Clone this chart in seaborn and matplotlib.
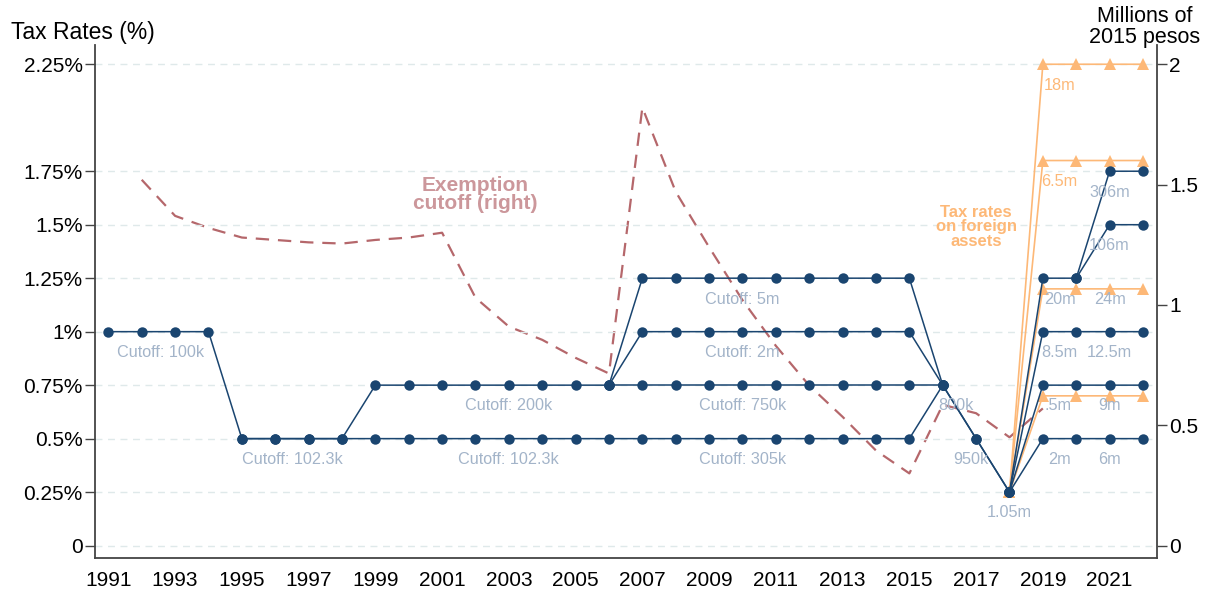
import numpy as np
import pandas as pd
import matplotlib
matplotlib.use("Agg")
import matplotlib.pyplot as plt
import seaborn as sns

sns.set_theme(style="white")
plt.rcParams['font.family'] = ['Liberation Sans', 'DejaVu Sans']
plt.rcParams['text.color'] = 'black'

N = np.nan
years = list(range(1991, 2023))

# Tax-rate brackets (%, left axis)
rate_top = [1.0, 1.0, 1.0, 1.0, 0.5, 0.5, 0.5, 0.5,
            0.75, 0.75, 0.75, 0.75, 0.75, 0.75, 0.75, 0.75,
            1.25, 1.25, 1.25, 1.25, 1.25, 1.25, 1.25, 1.25, 1.25,
            0.75, 0.5, 0.25, 1.25, 1.25, 1.75, 1.75]
rate_low = [N, N, N, N, 0.5, 0.5, 0.5, 0.5,
            0.5, 0.5, 0.5, 0.5, 0.5, 0.5, 0.5, 0.5,
            0.5, 0.5, 0.5, 0.5, 0.5, 0.5, 0.5, 0.5, 0.5,
            0.75, 0.5, 0.25, 0.5, 0.5, 0.5, 0.5]
rate_mid1 = [N, N, N, N, N, N, N, N,
             N, N, N, N, N, N, N, 0.75,
             1.0, 1.0, 1.0, 1.0, 1.0, 1.0, 1.0, 1.0, 1.0,
             0.75, N, N, N, N, N, N]
rate_mid2 = [N, N, N, N, N, N, N, N,
             N, N, N, N, N, N, N, 0.75,
             0.75, 0.75, 0.75, 0.75, 0.75, 0.75, 0.75, 0.75, 0.75,
             0.75, N, N, N, N, N, N]
rate_new1 = [N] * 27 + [0.25, 0.75, 0.75, 0.75, 0.75]
rate_new2 = [N] * 27 + [0.25, 1.0, 1.0, 1.0, 1.0]
rate_new3 = [N] * 29 + [1.25, 1.5, 1.5]

# Foreign-asset rates (%, left axis)
foreign_1 = [N] * 27 + [0.25, 0.7, 0.7, 0.7, 0.7]
foreign_2 = [N] * 27 + [0.25, 1.2, 1.2, 1.2, 1.2]
foreign_3 = [N] * 27 + [0.25, 1.8, 1.8, 1.8, 1.8]
foreign_4 = [N] * 27 + [0.25, 2.25, 2.25, 2.25, 2.25]

# Exemption cutoff (millions of 2015 pesos, right axis)
exempt_years = list(range(1992, 2020))
exemption = [1.52, 1.37, 1.32, 1.28, 1.27, 1.26, 1.255, 1.27, 1.28, 1.30,
             1.03, 0.91, 0.855, 0.78, 0.715, 1.82, 1.47, 1.24, 1.02, 0.83,
             0.665, 0.535, 0.395, 0.30, 0.585, 0.55, 0.45, 0.57]

# Bracket labels: (text, year, rate level)
cut_labels = [("Cutoff: 100k", 1992.55, 1.0), ("Cutoff: 102.3k", 1996.5, 0.5),
              ("Cutoff: 200k", 2003.0, 0.75), ("Cutoff: 102.3k", 2003.0, 0.5),
              ("Cutoff: 5m", 2010.0, 1.25), ("Cutoff: 2m", 2010.0, 1.0),
              ("Cutoff: 750k", 2010.0, 0.75), ("Cutoff: 305k", 2010.0, 0.5),
              ("800k", 2016.4, 0.75), ("950k", 2016.85, 0.5), ("1.05m", 2018.0, 0.25),
              ("2m", 2019.5, 0.5), (".5m", 2019.45, 0.75), ("8.5m", 2019.5, 1.0),
              ("20m", 2019.5, 1.25), ("6m", 2021.0, 0.5), ("9m", 2021.0, 0.75),
              ("12.5m", 2021.0, 1.0), ("24m", 2021.0, 1.25), ("106m", 2021.0, 1.5),
              ("306m", 2021.0, 1.75)]
foreign_labels = [("18m", 2019.5, 2.25), ("6.5m", 2019.5, 1.8)]

left_ticks = [0, 0.25, 0.5, 0.75, 1.0, 1.25, 1.5, 1.75, 2.25]
left_ticklabels = ["0", "0.25%", "0.5%", "0.75%", "1%", "1.25%", "1.5%", "1.75%", "2.25%"]
right_ticks = [0, 0.5, 1, 1.5, 2]
right_ticklabels = ["0", "0.5", "1", "1.5", "2"]
x_ticks = list(range(1991, 2023, 2))

NAVY = "#1a4570"
ORANGE = "#fdb877"
ROSE = "#b5676b"
LABEL_C = "#a3b4c9"

fig = plt.figure(figsize=(12.09, 5.92), dpi=100)
ax = fig.add_axes([95 / 1209, 1 - 558 / 592, (1157 - 95) / 1209, (558 - 45) / 592])
ax2 = ax.twinx()

ylo, yhi = -0.058, 2.34
ax.set_ylim(ylo, yhi)
ax2.set_ylim(ylo * 2 / 2.25, yhi * 2 / 2.25)
ax.set_xlim(1990.6, 2022.42)

for yv in left_ticks:
    ax.axhline(yv, color="#dfe9ea", lw=1.0, ls=(0, (5, 4)), zorder=0)

def draw(series, color, marker, ms, lw, axis, xs=years, z=3):
    df = pd.DataFrame({"year": xs, "v": series}).dropna()
    sns.lineplot(x="year", y="v", data=df, color=color, ax=axis, lw=lw,
                 estimator=None, sort=False, zorder=z,
                 marker=marker, markersize=ms, markeredgewidth=0)

for s in [foreign_1, foreign_2, foreign_3, foreign_4]:
    draw(s, ORANGE, "^", 9, 1.2, ax, z=2)
for s in [rate_top, rate_low, rate_mid1, rate_mid2, rate_new1, rate_new2, rate_new3]:
    draw(s, NAVY, "o", 7.5, 1.1, ax, z=4)

df_ex = pd.DataFrame({"year": exempt_years, "v": exemption})
sns.lineplot(x="year", y="v", data=df_ex, color=ROSE, ax=ax2, lw=1.6,
             estimator=None, sort=False)
ax2.lines[-1].set_dashes([6, 4])

for txt, xv, yv in cut_labels:
    ax.annotate(txt, (xv, yv), xytext=(0, -15), textcoords="offset points",
                ha="center", va="center", color=LABEL_C, fontsize=11.7, zorder=5)
for txt, xv, yv in foreign_labels:
    ax.annotate(txt, (xv, yv), xytext=(0, -15), textcoords="offset points",
                ha="center", va="center", color=ORANGE, fontsize=11.7, zorder=5)

ax.text(2002.0, 1.64, "Exemption\ncutoff (right)", ha="center", va="center",
        color="#cc979b", fontsize=15, fontweight="bold", linespacing=0.95)
ax.text(2017.0, 1.49, "Tax rates\non foreign\nassets", ha="center", va="center",
        color=ORANGE, fontsize=12, fontweight="bold", linespacing=0.95)

ax.set_yticks(left_ticks)
ax.set_yticklabels(left_ticklabels)
ax2.set_yticks(right_ticks)
ax2.set_yticklabels(right_ticklabels)
ax.set_xticks(x_ticks)
ax.set_xticklabels([str(x) for x in x_ticks])
ax.set_xlabel("")
ax.set_ylabel("")
ax2.set_ylabel("")

for a in (ax, ax2):
    a.grid(False)
    a.tick_params(axis="both", which="both", direction="out", length=7, width=1.0,
                  color="#444444", labelsize=15, labelcolor="black", pad=2)
    a.spines["top"].set_visible(False)
    for sp in ("left", "right", "bottom"):
        a.spines[sp].set_color("#444444")
        a.spines[sp].set_linewidth(1.3)
ax.spines["right"].set_visible(False)
ax2.spines["left"].set_visible(False)
ax2.spines["bottom"].set_visible(False)
ax.set_zorder(ax2.get_zorder() + 1)
ax.patch.set_visible(False)

fig.text(11 / 1209, 1 - 32 / 592, "Tax Rates (%)", ha="left", va="center",
         fontsize=16.5, color="black")
fig.text(1145 / 1209, 1 - 27 / 592, "Millions of\n2015 pesos", ha="center", va="center",
         fontsize=15.5, linespacing=0.95, color="black")

fig.savefig("out.png", dpi=100)
